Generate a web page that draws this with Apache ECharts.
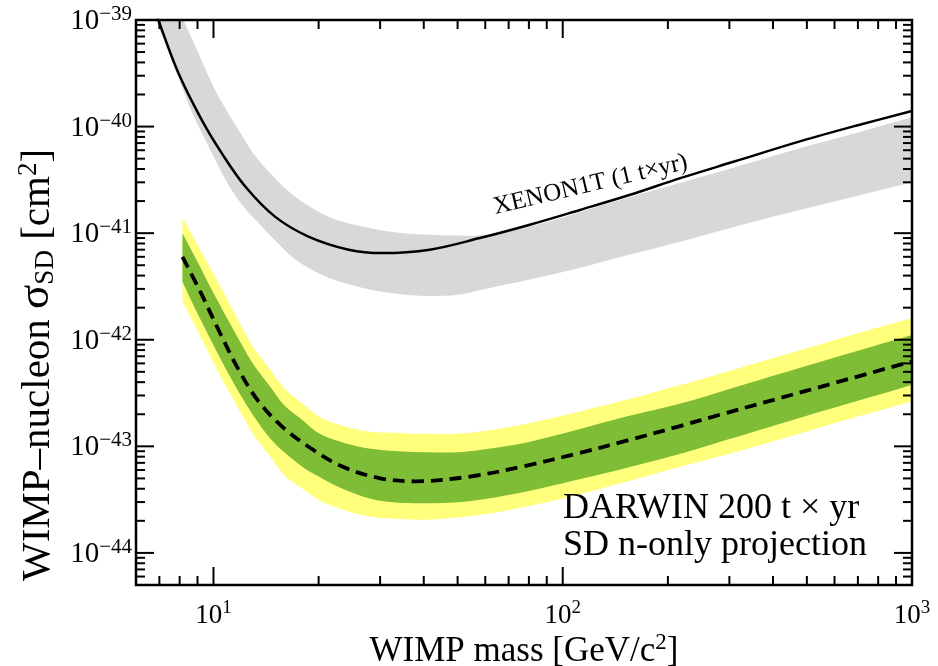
<!DOCTYPE html>
<html>
<head>
<meta charset="utf-8">
<script src="https://cdn.jsdelivr.net/npm/echarts@6/dist/echarts.min.js"></script>
<style>
  html, body { margin: 0; padding: 0; background: #fff; }
  #chart { width: 938px; height: 666px; }
</style>
</head>
<body>
<div id="chart"></div>
<script>
// WIMP mass in GeV/c^2, cross sections in cm^2

// XENON1T (1 t x yr) expected sensitivity band
const greyMass = [6.5, 7, 7.5, 8, 8.5, 9, 10, 11, 12, 13, 15, 17, 20, 23, 27, 32, 40, 50, 60, 80, 110, 150, 220, 320, 480, 700, 1000];
const greyUpper = [5.7e-39, 3.2e-39, 1.9e-39, 1.2e-39, 7.7e-40, 5.1e-40, 2.37e-40, 1.35e-40, 8.5e-41, 5.6e-41, 3.27e-41, 2.25e-41, 1.59e-41, 1.3e-41, 1.15e-41, 1.03e-41, 9.7e-42, 9.5e-42, 9.6e-42, 1.15e-41, 1.55e-41, 2.1e-41, 3.0e-41, 4.26e-41, 6.3e-41, 8.8e-41, 1.23e-40];
const greyLower = [1.6e-39, 8.3e-40, 4.6e-40, 2.7e-40, 1.6e-40, 1.05e-40, 5.3e-41, 2.9e-41, 1.9e-41, 1.4e-41, 8.6e-42, 5.8e-42, 4.2e-42, 3.5e-42, 3.05e-42, 2.75e-42, 2.58e-42, 2.65e-42, 3.0e-42, 3.65e-42, 4.65e-42, 6.1e-42, 8.4e-42, 1.18e-41, 1.66e-41, 2.25e-41, 3.0e-41];

// XENON1T limit curve
const xenonMass = [6.7, 6.95, 7.94, 9.26, 10.57, 12.33, 15.0, 18.7, 24.4, 30.4, 41.6, 57.9, 80.5, 112, 156, 217, 310, 480, 700, 1000];
const xenonLimit = [1.4e-39, 1.0e-39, 3.16e-40, 1.15e-40, 5.6e-41, 2.74e-41, 1.43e-41, 9.3e-42, 7.0e-42, 6.5e-42, 7.0e-42, 9.0e-42, 1.2e-41, 1.65e-41, 2.29e-41, 3.28e-41, 4.7e-41, 7.3e-41, 1.03e-40, 1.4e-40];

// DARWIN 200 t x yr projection: 1 sigma (green) and 2 sigma (yellow) bands
const darwinMass = [8.15, 9, 10, 11, 12, 13, 14.5, 16, 18, 20, 23, 27, 32, 40, 50, 60, 80, 110, 150, 220, 300, 500, 700, 1000];
const yellowUpper = [1.4e-41, 7.8e-42, 4.15e-42, 2.32e-42, 1.35e-42, 8.5e-43, 5.26e-43, 3.45e-43, 2.52e-43, 1.91e-43, 1.59e-43, 1.39e-43, 1.34e-43, 1.31e-43, 1.31e-43, 1.4e-43, 1.65e-43, 2.1e-43, 2.7e-43, 3.8e-43, 5.1e-43, 8.3e-43, 1.15e-42, 1.6e-42];
const greenUpper = [1.0e-41, 5.4e-42, 2.74e-42, 1.54e-42, 9.2e-43, 5.9e-43, 3.67e-43, 2.4e-43, 1.76e-43, 1.33e-43, 1.11e-43, 9.7e-44, 9.1e-44, 8.8e-44, 8.8e-44, 9.4e-44, 1.1e-43, 1.43e-43, 1.88e-43, 2.55e-43, 3.45e-43, 5.7e-43, 7.9e-43, 1.11e-42];
const greenLower = [3.5e-42, 1.76e-42, 8.9e-43, 4.9e-43, 2.97e-43, 1.95e-43, 1.2e-43, 8.7e-44, 6.4e-44, 5.2e-44, 4.1e-44, 3.35e-44, 3.0e-44, 2.92e-44, 2.98e-44, 3.2e-44, 3.8e-44, 4.85e-44, 6.2e-44, 8.6e-44, 1.17e-43, 1.94e-43, 2.67e-43, 3.79e-43];
const yellowLower = [2.3e-42, 1.22e-42, 6.1e-43, 3.4e-43, 2.04e-43, 1.3e-43, 8.1e-44, 5.3e-44, 4.0e-44, 3.16e-44, 2.6e-44, 2.25e-44, 2.1e-44, 2.05e-44, 2.15e-44, 2.3e-44, 2.75e-44, 3.5e-44, 4.6e-44, 6.5e-44, 8.5e-44, 1.38e-43, 1.9e-43, 2.64e-43];

// DARWIN median projected sensitivity
const medianMass = [8.15, 9.16, 10.45, 11.8, 13.46, 15.7, 18.95, 23.3, 29.8, 37.9, 54.2, 77, 109.6, 152.4, 216.8, 282, 500, 1000];
const medianSens = [6.0e-42, 2.84e-42, 1.15e-42, 5.24e-43, 2.64e-43, 1.54e-43, 9.64e-44, 6.49e-44, 5.04e-44, 4.7e-44, 5.2e-44, 6.49e-44, 8.53e-44, 1.13e-43, 1.55e-43, 1.98e-43, 3.33e-43, 6.27e-43];

// axis ranges and tick marks
const X_MIN = 6, X_MAX = 1000;
const Y_MIN = 5e-45, Y_MAX = 1e-39;
const xMajorTicks = [10, 100, 1000];
const yMajorTicks = [1e-44, 1e-43, 1e-42, 1e-41, 1e-40, 1e-39];
const minorMantissas = [2, 3, 4, 5, 6, 7, 8, 9];

// the y axis works in units of 1e-40 cm^2 to keep the log scale well inside float rounding
const Y_UNIT = 1e-40;
const EXP_SHIFT = -40;

const FONT = '"Liberation Serif", "Times New Roman", serif';
const GREY = '#d8d8d8', YELLOW = '#ffff7c', GREEN = '#7fbd37';
const SMOOTH = 0.35;

function pairs(xs, ys) { return xs.map((x, i) => [x, ys[i] / Y_UNIT]); }

function minorTicks(lo, hi, decades) {
  const out = [];
  decades.forEach(d => minorMantissas.forEach(m => {
    const v = m * d;
    if (v > lo * 1.0001 && v < hi * 0.9999) out.push(v);
  }));
  return out;
}
const xMinorTicks = minorTicks(X_MIN, X_MAX, [1, 10, 100]);
const yMinorTicks = minorTicks(Y_MIN, Y_MAX, [1e-45, 1e-44, 1e-43, 1e-42, 1e-41, 1e-40]);

const MAJOR_LEN = 18, MINOR_LEN = 9;

function tickSeries(axis, values, len) {
  return {
    type: 'custom',
    coordinateSystem: 'cartesian2d',
    z: 8,
    silent: true,
    clip: false,
    data: values.map(v => axis === 'x' ? [v, Y_MAX / Y_UNIT] : [X_MIN, v / Y_UNIT]),
    renderItem: function (params, api) {
      const cs = params.coordSys;
      const p = api.coord([api.value(0), api.value(1)]);
      const st = { stroke: '#000', lineWidth: 2 };
      if (axis === 'x') {
        const yb = cs.y + cs.height, yt = cs.y;
        return { type: 'group', children: [
          { type: 'line', shape: { x1: p[0], y1: yb, x2: p[0], y2: yb - len }, style: st },
          { type: 'line', shape: { x1: p[0], y1: yt, x2: p[0], y2: yt + len }, style: st }
        ] };
      }
      const xl = cs.x, xr = cs.x + cs.width;
      return { type: 'group', children: [
        { type: 'line', shape: { x1: xl, y1: p[1], x2: xl + len, y2: p[1] }, style: st },
        { type: 'line', shape: { x1: xr, y1: p[1], x2: xr - len, y2: p[1] }, style: st }
      ] };
    }
  };
}

// A filled band between a lower and an upper curve, drawn as one smoothed polygon.
// Each row is [mass, lower, upper]; the whole outline is built on the first item.
function bandSeries(xs, lower, upper, color, z) {
  return {
    type: 'custom',
    coordinateSystem: 'cartesian2d',
    z: z,
    silent: true,
    clip: true,
    encode: { x: 0, y: [1, 2] },
    data: xs.map((x, i) => [x, lower[i] / Y_UNIT, upper[i] / Y_UNIT]),
    renderItem: function (params, api) {
      if (params.dataIndexInside !== 0) return null;
      const n = params.dataInsideLength;
      const top = [], bot = [];
      for (let i = 0; i < n; i++) {
        top.push(api.coord([api.value(0, i), api.value(2, i)]));
        bot.push(api.coord([api.value(0, i), api.value(1, i)]));
      }
      // corner points are repeated so the smoothing keeps the band's end edges straight
      const pts = [top[0]].concat(top, [top[n - 1]], [bot[n - 1]], bot.slice().reverse(), [bot[0]]);
      return {
        type: 'polygon',
        shape: { points: pts, smooth: SMOOTH },
        style: { fill: color, stroke: null }
      };
    }
  };
}

function powLabel(exp) {
  return '{b|10}{s|' + (exp < 0 ? '\u2212' + Math.abs(exp) : exp) + '}';
}
function decadeOf(v) {
  const e = Math.log10(v), r = Math.round(e);
  return Math.abs(e - r) < 1e-6 ? r : null;
}
const yLabelRich = {
  b: { fontFamily: FONT, fontSize: 29, lineHeight: 32, color: '#000', verticalAlign: 'bottom' },
  s: { fontFamily: FONT, fontSize: 21, lineHeight: 20, color: '#000', verticalAlign: 'top' }
};
const xLabelRich = {
  b: { fontFamily: FONT, fontSize: 27, lineHeight: 30, color: '#000', verticalAlign: 'bottom' },
  s: { fontFamily: FONT, fontSize: 19, lineHeight: 18, color: '#000', verticalAlign: 'top' }
};

const chart = echarts.init(document.getElementById('chart'), null, { renderer: 'canvas' });

chart.setOption({
  animation: false,
  backgroundColor: '#fff',
  grid: { left: 136, right: 26, top: 20, bottom: 81, show: true, z: 6,
          outerBoundsMode: 'none', containLabel: false,
          borderColor: '#000', borderWidth: 2.5, backgroundColor: 'transparent' },
  xAxis: {
    type: 'log', logBase: 10, min: X_MIN, max: X_MAX,
    axisLine: { show: false }, axisTick: { show: false }, splitLine: { show: false },
    axisLabel: {
      margin: 14,
      formatter: v => { const d = decadeOf(v); return d === null ? '' : powLabel(d); },
      rich: xLabelRich
    },
    name: '{t|WIMP mass [GeV/c}{sup|2}{t|]}',
    nameLocation: 'middle', nameGap: 46, nameMoveOverlap: false,
    nameTextStyle: {
      rich: {
        t: { fontFamily: FONT, fontSize: 35, lineHeight: 38, color: '#000', verticalAlign: 'bottom' },
        sup: { fontFamily: FONT, fontSize: 23, lineHeight: 22, color: '#000', verticalAlign: 'top' }
      }
    }
  },
  yAxis: {
    type: 'log', logBase: 10, min: Y_MIN / Y_UNIT, max: Y_MAX / Y_UNIT,
    axisLine: { show: false }, axisTick: { show: false }, splitLine: { show: false },
    axisLabel: {
      margin: 4,
      formatter: v => { const d = decadeOf(v); return d === null ? '' : powLabel(d + EXP_SHIFT); },
      rich: yLabelRich
    }
  },
  graphic: [
    {
      type: 'text', x: 37, y: 365, rotation: Math.PI / 2, z: 10,
      style: {
        text: '{t|WIMP\u2013nucleon }{g|\u03c3}{sub|SD}{t| [cm}{sup|2}{t|]}',
        align: 'center', verticalAlign: 'middle', textAlign: 'center', textVerticalAlign: 'middle',
        rich: {
          t: { fontFamily: FONT, fontSize: 41, lineHeight: 44, fill: '#000', verticalAlign: 'bottom' },
          g: { fontFamily: FONT, fontSize: 45, lineHeight: 44, fill: '#000', verticalAlign: 'bottom' },
          sub: { fontFamily: FONT, fontSize: 27, lineHeight: 26, fill: '#000', verticalAlign: 'bottom' },
          sup: { fontFamily: FONT, fontSize: 27, lineHeight: 26, fill: '#000', verticalAlign: 'top' }
        }
      }
    },
    {
      type: 'text', left: 563, top: 490, z: 10,
      style: {
        text: 'DARWIN 200 t \u00d7 yr\nSD n-only projection',
        fontFamily: FONT, fontSize: 36, lineHeight: 37, fill: '#000'
      }
    }
  ],
  series: [
    // XENON1T sensitivity band
    bandSeries(greyMass, greyLower, greyUpper, GREY, 1),
    // DARWIN 2 sigma and 1 sigma bands
    bandSeries(darwinMass, yellowLower, yellowUpper, YELLOW, 2),
    bandSeries(darwinMass, greenLower, greenUpper, GREEN, 3),
    // XENON1T limit
    { type: 'line', smooth: SMOOTH, z: 4, silent: true, showSymbol: false, symbol: 'none',
      lineStyle: { color: '#000', width: 2.5 },
      data: pairs(xenonMass, xenonLimit) },
    // DARWIN median
    { type: 'line', smooth: SMOOTH, z: 4, silent: true, showSymbol: false, symbol: 'none',
      lineStyle: { color: '#000', width: 3.8, type: [12, 7] },
      data: pairs(medianMass, medianSens) },
    // curve label
    {
      type: 'custom', coordinateSystem: 'cartesian2d', z: 7, silent: true,
      data: [[120, 2.84e-41 / Y_UNIT]],
      renderItem: function (params, api) {
        const p = api.coord([api.value(0), api.value(1)]);
        return {
          type: 'text', x: p[0], y: p[1], rotation: 13.3 * Math.PI / 180,
          style: { text: 'XENON1T (1 t\u00d7yr)', fontFamily: FONT, fontSize: 25,
                   fill: '#000', align: 'center', verticalAlign: 'middle' }
        };
      }
    },
    tickSeries('x', xMajorTicks, MAJOR_LEN),
    tickSeries('x', xMinorTicks, MINOR_LEN),
    tickSeries('y', yMajorTicks, MAJOR_LEN),
    tickSeries('y', yMinorTicks, MINOR_LEN)
  ]
});
</script>
</body>
</html>
